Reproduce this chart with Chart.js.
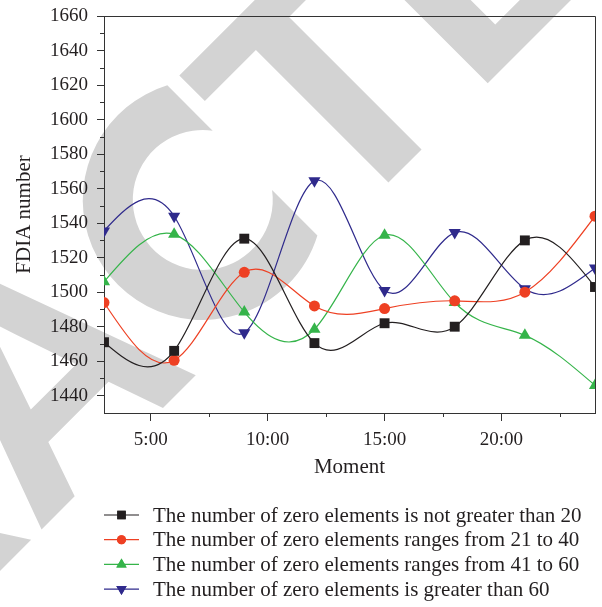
<!DOCTYPE html>
<html>
<head>
<title>FDIA number by moment</title>
<script src="https://cdn.jsdelivr.net/npm/chart.js"></script>
<style>
  body { margin: 0; background: #fff; }
</style>
</head>
<body>
<canvas id="myChart" width="602" height="607"></canvas>
<script>
// data
var hours = [3, 6, 9, 12, 15, 18, 21, 24];
var notOver20 = [1471, 1466, 1531, 1470.5, 1482, 1480, 1530, 1503];
var from21to40 = [1494, 1460.5, 1511.5, 1492, 1490.5, 1495, 1500, 1544];
var from41to60 = [1506, 1533.5, 1488.5, 1478.5, 1533, 1494, 1475, 1446];
var over60 = [1535.5, 1544, 1476.5, 1564.5, 1501, 1534.5, 1502, 1514];
var seriesNames = [
    'The number of zero elements is not greater than 20',
    'The number of zero elements ranges from 21 to 40',
    'The number of zero elements ranges from 41 to 60',
    'The number of zero elements is greater than 60'
];
var xTicks = [5, 10, 15, 20];
var xMinor = [7.5, 12.5, 17.5, 22.5];
var yMinor = [1450, 1470, 1490, 1510, 1530, 1550, 1570, 1590, 1610, 1630, 1650];

var serif = '"Liberation Serif", "DejaVu Serif", serif';
var colors = ['#231f20', '#ee4023', '#35b44a', '#2f2a8c'];
var styles = [
    { pointStyle: 'rect', radius: 7, rotation: 0 },
    { pointStyle: 'circle', radius: 5.5, rotation: 0 },
    { pointStyle: 'triangle', radius: 7, rotation: 0 },
    { pointStyle: 'triangle', radius: 7, rotation: 180 }
];

function toPoints(values) {
    return hours.map(function (h, i) { return { x: h, y: values[i] }; });
}

var allSeries = [notOver20, from21to40, from41to60, over60];
var datasets = allSeries.map(function (values, i) {
    return {
        label: seriesNames[i],
        data: toPoints(values),
        borderColor: colors[i],
        backgroundColor: colors[i],
        borderWidth: 1.2,
        tension: 0.4,
        pointStyle: styles[i].pointStyle,
        pointRadius: styles[i].radius,
        pointRotation: styles[i].rotation,
        pointBorderWidth: 0,
        pointHoverRadius: styles[i].radius
    };
});

// the original uses a natural cubic spline, so swap Chart.js' bezier handles for those
var naturalSpline = {
    id: 'naturalSpline',
    beforeDatasetsDraw: function (chart) {
        chart.data.datasets.forEach(function (ds, k) {
            var meta = chart.getDatasetMeta(k);
            var pts = meta.data;
            var n = pts.length;
            if (n < 3) return;
            var x = pts.map(function (p) { return p.x; });
            var y = pts.map(function (p) { return p.y; });
            var h = [];
            for (var i = 0; i < n - 1; i++) h.push(x[i + 1] - x[i]);
            // tridiagonal system for second derivatives, M[0] = M[n-1] = 0
            var a = [], b = [], c = [], d = [];
            for (i = 1; i < n - 1; i++) {
                a.push(h[i - 1]);
                b.push(2 * (h[i - 1] + h[i]));
                c.push(h[i]);
                d.push(6 * ((y[i + 1] - y[i]) / h[i] - (y[i] - y[i - 1]) / h[i - 1]));
            }
            var m = a.length;
            for (i = 1; i < m; i++) {
                var w = a[i] / b[i - 1];
                b[i] -= w * c[i - 1];
                d[i] -= w * d[i - 1];
            }
            var inner = new Array(m);
            inner[m - 1] = d[m - 1] / b[m - 1];
            for (i = m - 2; i >= 0; i--) inner[i] = (d[i] - c[i] * inner[i + 1]) / b[i];
            var M = [0].concat(inner, [0]);
            var slope = [];
            for (i = 0; i < n - 1; i++) {
                slope.push((y[i + 1] - y[i]) / h[i] - h[i] * (2 * M[i] + M[i + 1]) / 6);
            }
            slope.push((y[n - 1] - y[n - 2]) / h[n - 2] + h[n - 2] * (M[n - 2] + 2 * M[n - 1]) / 6);
            for (i = 0; i < n; i++) {
                var p = pts[i];
                var hp = i > 0 ? h[i - 1] : 0;
                var hn = i < n - 1 ? h[i] : 0;
                p.cp1x = x[i] - hp / 3;
                p.cp1y = y[i] - slope[i] * hp / 3;
                p.cp2x = x[i] + hn / 3;
                p.cp2y = y[i] + slope[i] * hn / 3;
            }
            meta.dataset._pointsUpdated = true;
            meta.dataset._path = undefined;
        });
    }
};

// grey "RETRACTED" stamp behind the plot, anchored on the stem of the second T
var watermark = {
    id: 'watermark',
    beforeDraw: function (chart) {
        var ctx = chart.ctx;
        var word = 'RETRACTED';
        ctx.save();
        ctx.fillStyle = '#d3d3d3';
        ctx.font = 'bold 325px "Liberation Sans", Arial, sans-serif';
        ctx.textBaseline = 'alphabetic';
        ctx.translate(405, 166);
        ctx.rotate(-45 * Math.PI / 180);
        var w = function (c) { return ctx.measureText(c).width; };
        var x = w('T') / 2;
        ctx.fillText('T', -w('T') / 2, 0);
        for (var i = 7; i < word.length; i++) {
            x -= 4;
            ctx.fillText(word[i], x, 0);
            x += w(word[i]);
        }
        // the stamp's C is a round ring with straight cut ends
        var cx = -167, cy = -119, ro = 120, ri = 70, cut = 56;
        var ao = Math.acos(cut / ro), ai = Math.acos(cut / ri);
        ctx.beginPath();
        ctx.arc(cx, cy, ro, -ao, ao, true);
        ctx.arc(cx, cy, ri, ai, -ai, false);
        ctx.closePath();
        ctx.fill();
        x = -170 - w('C') / 2;
        for (var j = 4; j >= 0; j--) {
            x -= w(word[j]);
            ctx.fillText(word[j], x, 0);
        }
        ctx.restore();
    }
};

// frame, minor ticks and the legend below the plot
var extras = {
    id: 'extras',
    afterDraw: function (chart) {
        var ctx = chart.ctx;
        var a = chart.chartArea;
        var xs = chart.scales.x, ys = chart.scales.y;
        ctx.save();
        ctx.strokeStyle = '#333';
        ctx.lineWidth = 1;
        ctx.beginPath();
        ctx.moveTo(a.left, a.top + 0.5);
        ctx.lineTo(a.right + 0.5, a.top + 0.5);
        ctx.lineTo(a.right + 0.5, a.bottom);
        ctx.stroke();
        ctx.beginPath();
        xMinor.forEach(function (v) {
            var px = Math.round(xs.getPixelForValue(v)) + 0.5;
            ctx.moveTo(px, a.bottom);
            ctx.lineTo(px, a.bottom + 4);
        });
        yMinor.forEach(function (v) {
            var py = Math.round(ys.getPixelForValue(v)) + 0.5;
            ctx.moveTo(a.left, py);
            ctx.lineTo(a.left - 4, py);
        });
        ctx.stroke();

        ctx.font = '21px ' + serif;
        ctx.textBaseline = 'middle';
        ctx.textAlign = 'left';
        seriesNames.forEach(function (name, i) {
            var y = 515 + i * 24.7;
            ctx.strokeStyle = colors[i];
            ctx.lineWidth = 1.2;
            ctx.beginPath();
            ctx.moveTo(104, y);
            ctx.lineTo(139, y);
            ctx.stroke();
            ctx.fillStyle = colors[i];
            Chart.helpers.drawPoint(ctx, {
                pointStyle: styles[i].pointStyle,
                radius: styles[i].radius - 1,
                rotation: styles[i].rotation,
                borderWidth: 0
            }, 121.5, y);
            ctx.fill();
            ctx.fillStyle = '#231f20';
            ctx.fillText(name, 153, y + 1);
        });
        ctx.restore();
    }
};

var ctx = document.getElementById('myChart').getContext('2d');
var myChart = new Chart(ctx, {
    type: 'line',
    data: { datasets: datasets },
    options: {
        responsive: false,
        animation: false,
        layout: { padding: { top: 16, right: 5, bottom: 127, left: 0 } },
        plugins: {
            legend: { display: false },
            tooltip: { enabled: false }
        },
        scales: {
            x: {
                type: 'linear',
                min: 3,
                max: 24,
                afterBuildTicks: function (scale) {
                    scale.ticks = xTicks.map(function (v) { return { value: v }; });
                },
                afterFit: function (scale) { scale.height = 67; },
                ticks: {
                    color: '#231f20',
                    font: { family: serif, size: 19 },
                    padding: 8,
                    maxRotation: 0,
                    callback: function (v) { return v + ':00'; }
                },
                grid: { drawOnChartArea: false, tickLength: 8, color: '#333' },
                border: { color: '#333', width: 1 },
                title: {
                    display: true,
                    text: 'Moment',
                    color: '#231f20',
                    font: { family: serif, size: 21 },
                    padding: { top: 2, bottom: 0 }
                }
            },
            y: {
                min: 1430,
                max: 1660,
                afterBuildTicks: function (scale) {
                    var t = [];
                    for (var v = 1440; v <= 1660; v += 20) t.push({ value: v });
                    scale.ticks = t;
                },
                afterFit: function (scale) {
                    scale.width = 104;
                    scale.paddingTop = 0;
                    scale.paddingBottom = 0;
                },
                ticks: {
                    color: '#231f20',
                    font: { family: serif, size: 19 },
                    padding: 9,
                    callback: function (v) { return String(v); }
                },
                grid: { drawOnChartArea: false, tickLength: 7, color: '#333' },
                border: { color: '#333', width: 1 },
                title: {
                    display: true,
                    text: 'FDIA number',
                    color: '#231f20',
                    font: { family: serif, size: 21 },
                    padding: { top: 12, bottom: 6 }
                }
            }
        }
    },
    plugins: [watermark, naturalSpline, extras]
});
</script>
</body>
</html>
